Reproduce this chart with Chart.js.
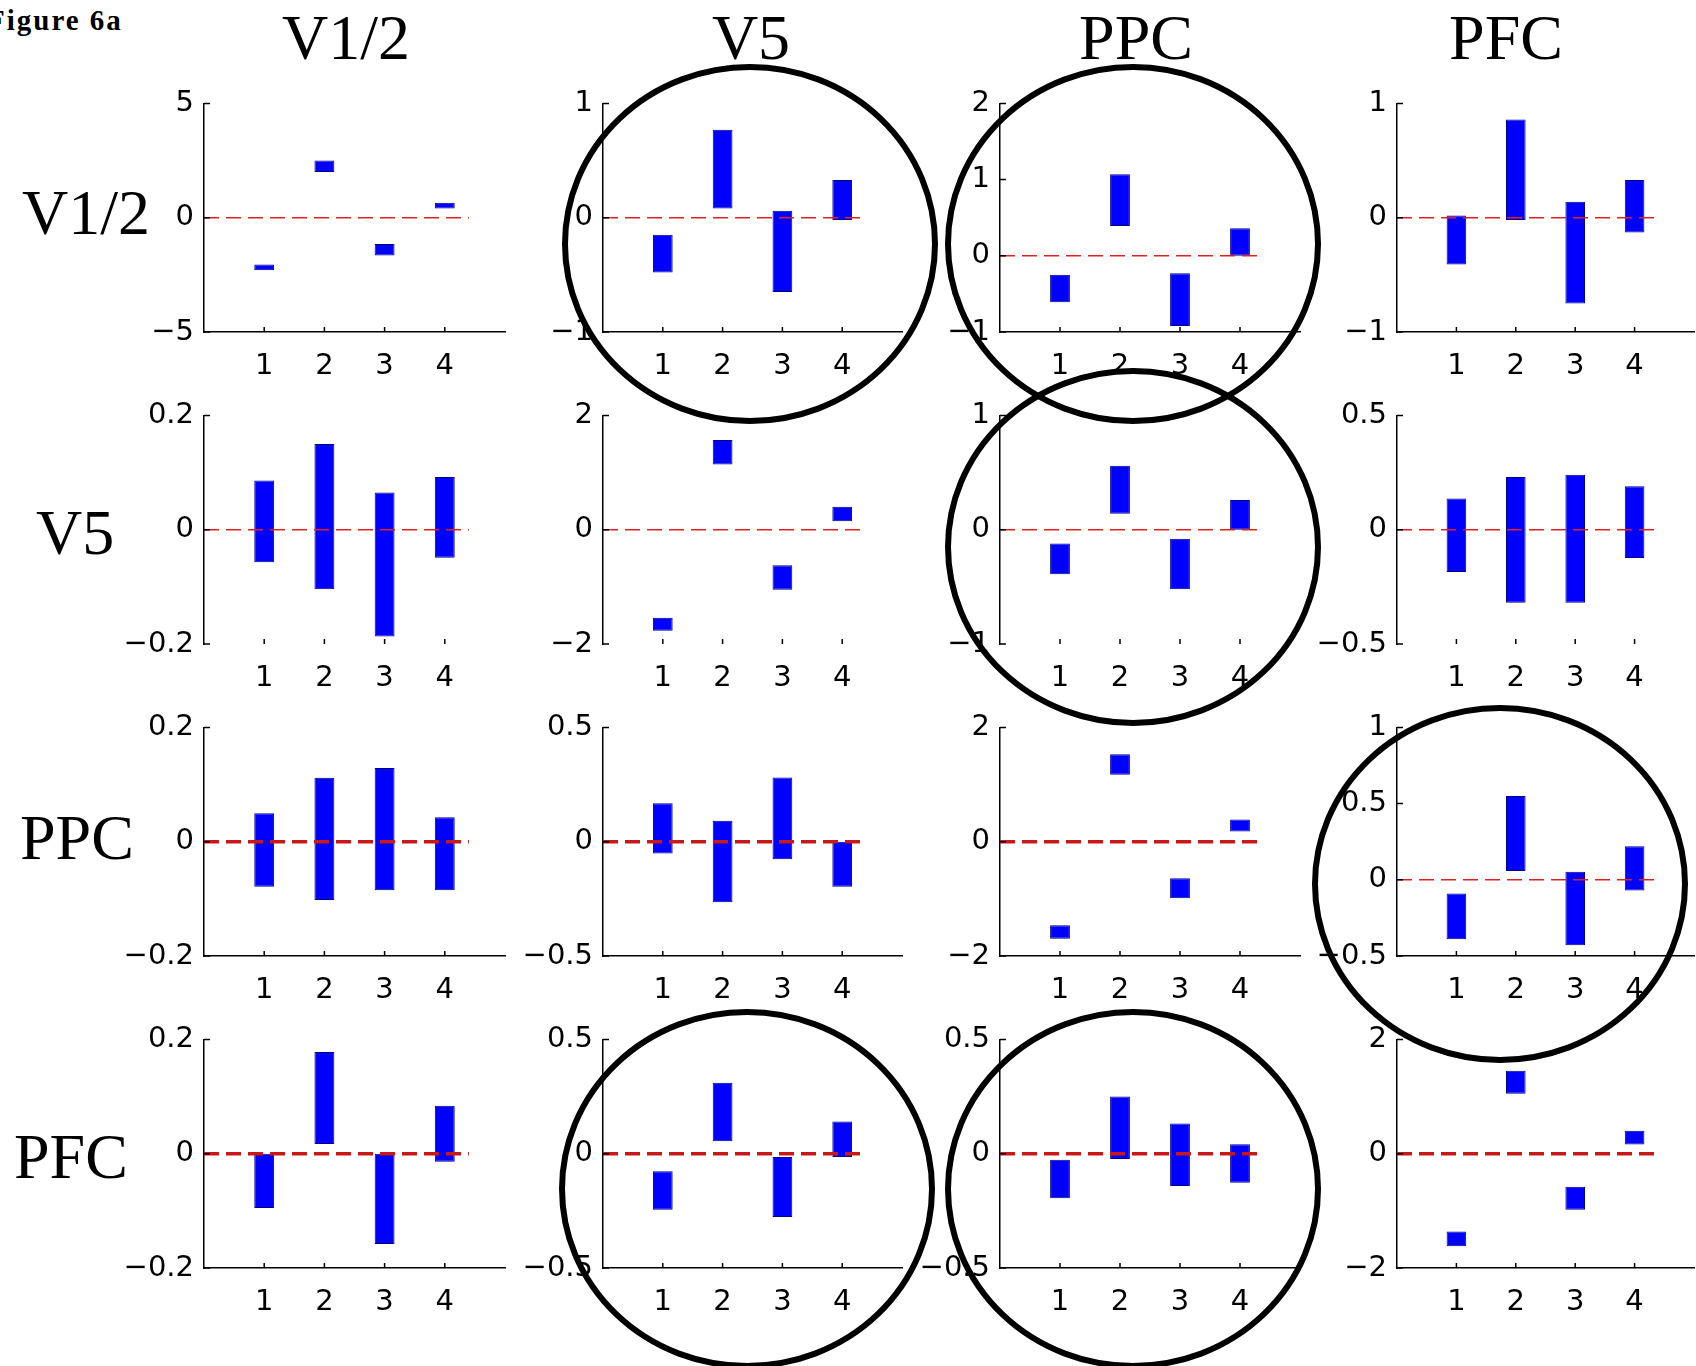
<!DOCTYPE html>
<html>
<head>
<meta charset="utf-8">
<title>Figure 6a</title>
<script src="https://cdn.jsdelivr.net/npm/chart.js@4.4.1/dist/chart.umd.min.js"></script>
<style>
  html, body { margin: 0; padding: 0; background: #fff; }
  #page { position: relative; width: 1696px; height: 1366px; overflow: hidden; background: #fff; }
  #page canvas { position: absolute; }
  .big { position: absolute; font-family: "Liberation Serif", "Times New Roman", serif; font-size: 64px; line-height: 64px; color: #000; white-space: nowrap; }
  .colTitle { transform: translateX(-50%); }
  #figTag { position: absolute; left: -13px; top: 6px; font: bold 29px/29px "Liberation Serif", serif; letter-spacing: 2px; color: #000; white-space: nowrap; }
  #circles { z-index: 5; pointer-events: none; }
</style>
</head>
<body>
<div id="page">
  <div id="figTag">Figure 6a</div>
</div>
<script>
// regions, used both as row (from) and column (to) labels
const regions = ['V1/2', 'V5', 'PPC', 'PFC'];
const conditions = [1, 2, 3, 4];

// [low, high] of each floating bar
const v12ToV12 = [[-2.3, -2.05], [2.0, 2.5], [-1.65, -1.15], [0.4, 0.65]];
const v12ToV5  = [[-0.48, -0.15], [0.08, 0.77], [-0.65, 0.06], [-0.02, 0.33]];
const v12ToPPC = [[-0.61, -0.25], [0.39, 1.07], [-0.92, -0.23], [0, 0.36]];
const v12ToPFC = [[-0.41, 0.02], [-0.02, 0.86], [-0.75, 0.14], [-0.13, 0.33]];

const v5ToV12 = [[-0.057, 0.086], [-0.104, 0.15], [-0.187, 0.065], [-0.049, 0.092]];
const v5ToV5  = [[-1.77, -1.54], [1.14, 1.57], [-1.05, -0.62], [0.15, 0.4]];
const v5ToPPC = [[-0.39, -0.12], [0.14, 0.56], [-0.52, -0.08], [0, 0.26]];
const v5ToPFC = [[-0.185, 0.137], [-0.32, 0.23], [-0.32, 0.24], [-0.124, 0.19]];

const ppcToV12 = [[-0.079, 0.05], [-0.102, 0.112], [-0.085, 0.129], [-0.085, 0.043]];
const ppcToV5  = [[-0.052, 0.168], [-0.265, 0.092], [-0.077, 0.281], [-0.197, 0]];
const ppcToPPC = [[-1.7, -1.46], [1.17, 1.53], [-0.99, -0.64], [0.18, 0.39]];
const ppcToPFC = [[-0.39, -0.09], [0.057, 0.55], [-0.43, 0.053], [-0.07, 0.22]];

const pfcToV12 = [[-0.095, 0], [0.017, 0.178], [-0.158, 0], [-0.014, 0.084]];
const pfcToV5  = [[-0.245, -0.077], [0.055, 0.31], [-0.277, -0.014], [-0.014, 0.141]];
const pfcToPPC = [[-0.195, -0.027], [-0.023, 0.25], [-0.141, 0.132], [-0.127, 0.041]];
const pfcToPFC = [[-1.62, -1.36], [1.05, 1.45], [-0.98, -0.58], [0.16, 0.4]];

const panelBars = [
  [v12ToV12, v12ToV5, v12ToPPC, v12ToPFC],
  [v5ToV12, v5ToV5, v5ToPPC, v5ToPFC],
  [ppcToV12, ppcToV5, ppcToPPC, ppcToPFC],
  [pfcToV12, pfcToV5, pfcToPPC, pfcToPFC]
];

// y limits and tick labels of every panel
const yMin = [[-5, -1, -1, -1], [-0.2, -2, -1, -0.5], [-0.2, -0.5, -2, -0.5], [-0.2, -0.5, -0.5, -2]];
const yMax = [[5, 1, 2, 1], [0.2, 2, 1, 0.5], [0.2, 0.5, 2, 1], [0.2, 0.5, 0.5, 2]];
const yTicks = [
  [[-5, 0, 5], [-1, 0, 1], [-1, 0, 1, 2], [-1, 0, 1]],
  [[-0.2, 0, 0.2], [-2, 0, 2], [-1, 0, 1], [-0.5, 0, 0.5]],
  [[-0.2, 0, 0.2], [-0.5, 0, 0.5], [-2, 0, 2], [-0.5, 0, 0.5, 1]],
  [[-0.2, 0, 0.2], [-0.5, 0, 0.5], [-0.5, 0, 0.5], [-2, 0, 2]]
];
const zeroLineEnd = 4.4;

// panels that are circled in the figure [row, col]
const circled = [[0, 1], [0, 2], [1, 2], [2, 3], [3, 1], [3, 2]];

// ---- layout (page pixels) ----
const plotLeft = [204, 603, 1000, 1397];
const plotWidth = [301, 299, 300, 297];
const plotTop = [96, 408, 720, 1032];
const plotHeight = 236;
const padL = 80, padT = 20, padR = 10, padB = 64;
const titleX = [346, 751, 1136, 1506];
const rowLabelLeft = [22, 36, 20, 14];
const rowLabelBase = [235, 555, 860, 1179];
// ellipse for each circled panel
const circleShape = [
  { cx: 750, cy: 244, rx: 185, ry: 177 },
  { cx: 1133, cy: 244, rx: 185, ry: 177 },
  { cx: 1133, cy: 547, rx: 185, ry: 176 },
  { cx: 1500, cy: 884, rx: 185, ry: 176 },
  { cx: 747, cy: 1189, rx: 185, ry: 177 },
  { cx: 1133, cy: 1189, rx: 185, ry: 177 }
];

const page = document.getElementById('page');

function tickText(v) {
  return v < 0 ? '\u2212' + Math.abs(v) : String(v);
}

// matlab style ticks pointing into the plot
const inwardTicks = {
  id: 'inwardTicks',
  afterDraw(chart) {
    const { ctx, chartArea: a, scales: { x, y } } = chart;
    ctx.save();
    ctx.strokeStyle = '#000';
    ctx.lineWidth = 1.5;
    ctx.beginPath();
    y.ticks.forEach(t => {
      const py = y.getPixelForValue(t.value);
      ctx.moveTo(a.left, py);
      ctx.lineTo(a.left + 6, py);
    });
    x.ticks.forEach(t => {
      const px = x.getPixelForValue(t.value);
      ctx.moveTo(px, a.bottom);
      ctx.lineTo(px, a.bottom - 5);
    });
    ctx.stroke();
    ctx.restore();
  }
};

regions.forEach((src, r) => {
  regions.forEach((dst, c) => {
    const canvas = document.createElement('canvas');
    canvas.width = plotWidth[c] + padL + padR;
    canvas.height = plotHeight + padT + padB;
    canvas.style.left = (plotLeft[c] - padL) + 'px';
    canvas.style.top = (plotTop[r] - padT) + 'px';
    page.appendChild(canvas);

    const thick = r === 3 || (r === 2 && c < 3);
    const tickFont = { family: 'DejaVu Sans', size: 29 };

    new Chart(canvas, {
      type: 'bar',
      data: {
        datasets: [
          {
            type: 'line',
            data: [{ x: 0, y: 0 }, { x: zeroLineEnd, y: 0 }],
            borderColor: thick ? '#c81818' : '#e02020',
            borderWidth: thick ? 3.5 : 1.5,
            borderDash: [15, 7],
            pointRadius: 0,
            order: 0
          },
          {
            type: 'bar',
            data: panelBars[r][c].map((b, i) => ({ x: conditions[i], y: b })),
            backgroundColor: '#0000ff',
            borderColor: '#00008b',
            borderWidth: 1,
            borderSkipped: false,
            barPercentage: 0.33,
            categoryPercentage: 1,
            order: 1
          }
        ]
      },
      options: {
        responsive: false,
        animation: false,
        events: [],
        layout: { padding: { top: padT, right: padR, left: 0, bottom: 0 } },
        plugins: { legend: { display: false }, tooltip: { enabled: false } },
        scales: {
          x: {
            type: 'linear', min: 0, max: 5, offset: false,
            grid: { display: false, drawTicks: false },
            border: { display: r !== 1, color: '#000', width: 1.5 },
            ticks: { color: '#000', font: tickFont, padding: 17, maxRotation: 0, autoSkip: false, callback: v => String(v) },
            afterBuildTicks: s => { s.ticks = conditions.map(v => ({ value: v })); },
            afterFit: s => { s.height = padB; }
          },
          y: {
            min: yMin[r][c], max: yMax[r][c],
            grid: { display: false, drawTicks: false },
            border: { color: '#000', width: 1.5 },
            ticks: { color: '#000', font: tickFont, padding: 10, callback: v => tickText(v) },
            afterBuildTicks: s => { s.ticks = yTicks[r][c].map(v => ({ value: v })); },
            afterFit: s => { s.width = padL; }
          }
        }
      },
      plugins: [inwardTicks]
    });
  });
});

// column titles and row labels
regions.forEach((name, i) => {
  const t = document.createElement('div');
  t.className = 'big colTitle';
  t.textContent = name;
  t.style.left = titleX[i] + 'px';
  t.style.top = (60 - 54) + 'px';
  page.appendChild(t);

  const l = document.createElement('div');
  l.className = 'big';
  l.textContent = name;
  l.style.left = rowLabelLeft[i] + 'px';
  l.style.top = (rowLabelBase[i] - 54) + 'px';
  page.appendChild(l);
});

// hand drawn circles around the highlighted panels
const ov = document.createElement('canvas');
ov.id = 'circles';
ov.width = 1696;
ov.height = 1366;
ov.style.left = '0px';
ov.style.top = '0px';
page.appendChild(ov);
const octx = ov.getContext('2d');
octx.strokeStyle = '#000';
octx.lineWidth = 6;
circled.forEach((p, k) => {
  const e = circleShape[k];
  octx.beginPath();
  octx.ellipse(e.cx, e.cy, e.rx, e.ry, 0, 0, Math.PI * 2);
  octx.stroke();
});
</script>
</body>
</html>
